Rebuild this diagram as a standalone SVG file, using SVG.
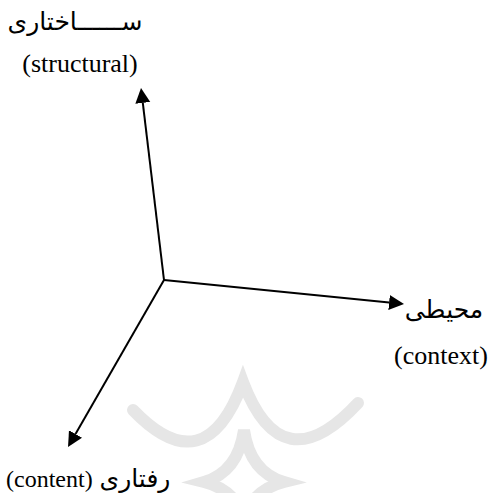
<svg xmlns="http://www.w3.org/2000/svg" width="491" height="493" viewBox="0 0 491 493">
  <style>
    .en { font-family: "Liberation Serif", "Times New Roman", serif; font-size: 26px; fill: #000; }
    .fa { font-family: "Liberation Serif", "DejaVu Sans", "Noto Sans", serif; font-size: 25px; fill: #000; }
    .axis { stroke: #000; stroke-width: 2; fill: none; }
    .wm { stroke: #e6e6e6; stroke-width: 12; fill: none; stroke-linecap: round; }
  </style>
  <defs>
    <marker id="arrow" markerUnits="userSpaceOnUse" markerWidth="16" markerHeight="16" refX="0" refY="8" orient="auto" viewBox="0 0 16 16">
      <path d="M0,0.5 L15,8 L0,15.5 Z" fill="#000"/>
    </marker>
  </defs>
  <rect width="491" height="493" fill="#fff"/>
  <g id="watermark">
    <path class="wm" d="M 133 410 Q 205 485 243 382 Q 282 485 358 403"/>
    <path class="wm" d="M 244 430 Q 250 472 284 482 Q 252 490 244 520 Q 236 490 204 482 Q 238 472 244 430 Z"/>
  </g>
  <g id="connectors">
    <line class="axis" x1="164" y1="280" x2="142.8" y2="102.9" marker-end="url(#arrow)"/>
    <line class="axis" x1="164" y1="280" x2="389.1" y2="302.5" marker-end="url(#arrow)"/>
    <line class="axis" x1="164" y1="280" x2="75.5" y2="434" marker-end="url(#arrow)"/>
  </g>
  <g id="structural">
    <text class="fa" x="75" y="30" text-anchor="middle">ســــــاختاری</text>
    <text class="en" x="80" y="72" text-anchor="middle">(structural)</text>
  </g>
  <g id="context">
    <text class="fa" x="444" y="318" text-anchor="middle">محیطی</text>
    <text class="en" x="441" y="364" text-anchor="middle">(context)</text>
  </g>
  <g id="content">
    <text class="en" x="6" y="487" style="font-size:24px">(content)</text>
    <text class="fa" x="135" y="487" text-anchor="middle">رفتاری</text>
  </g>
</svg>
